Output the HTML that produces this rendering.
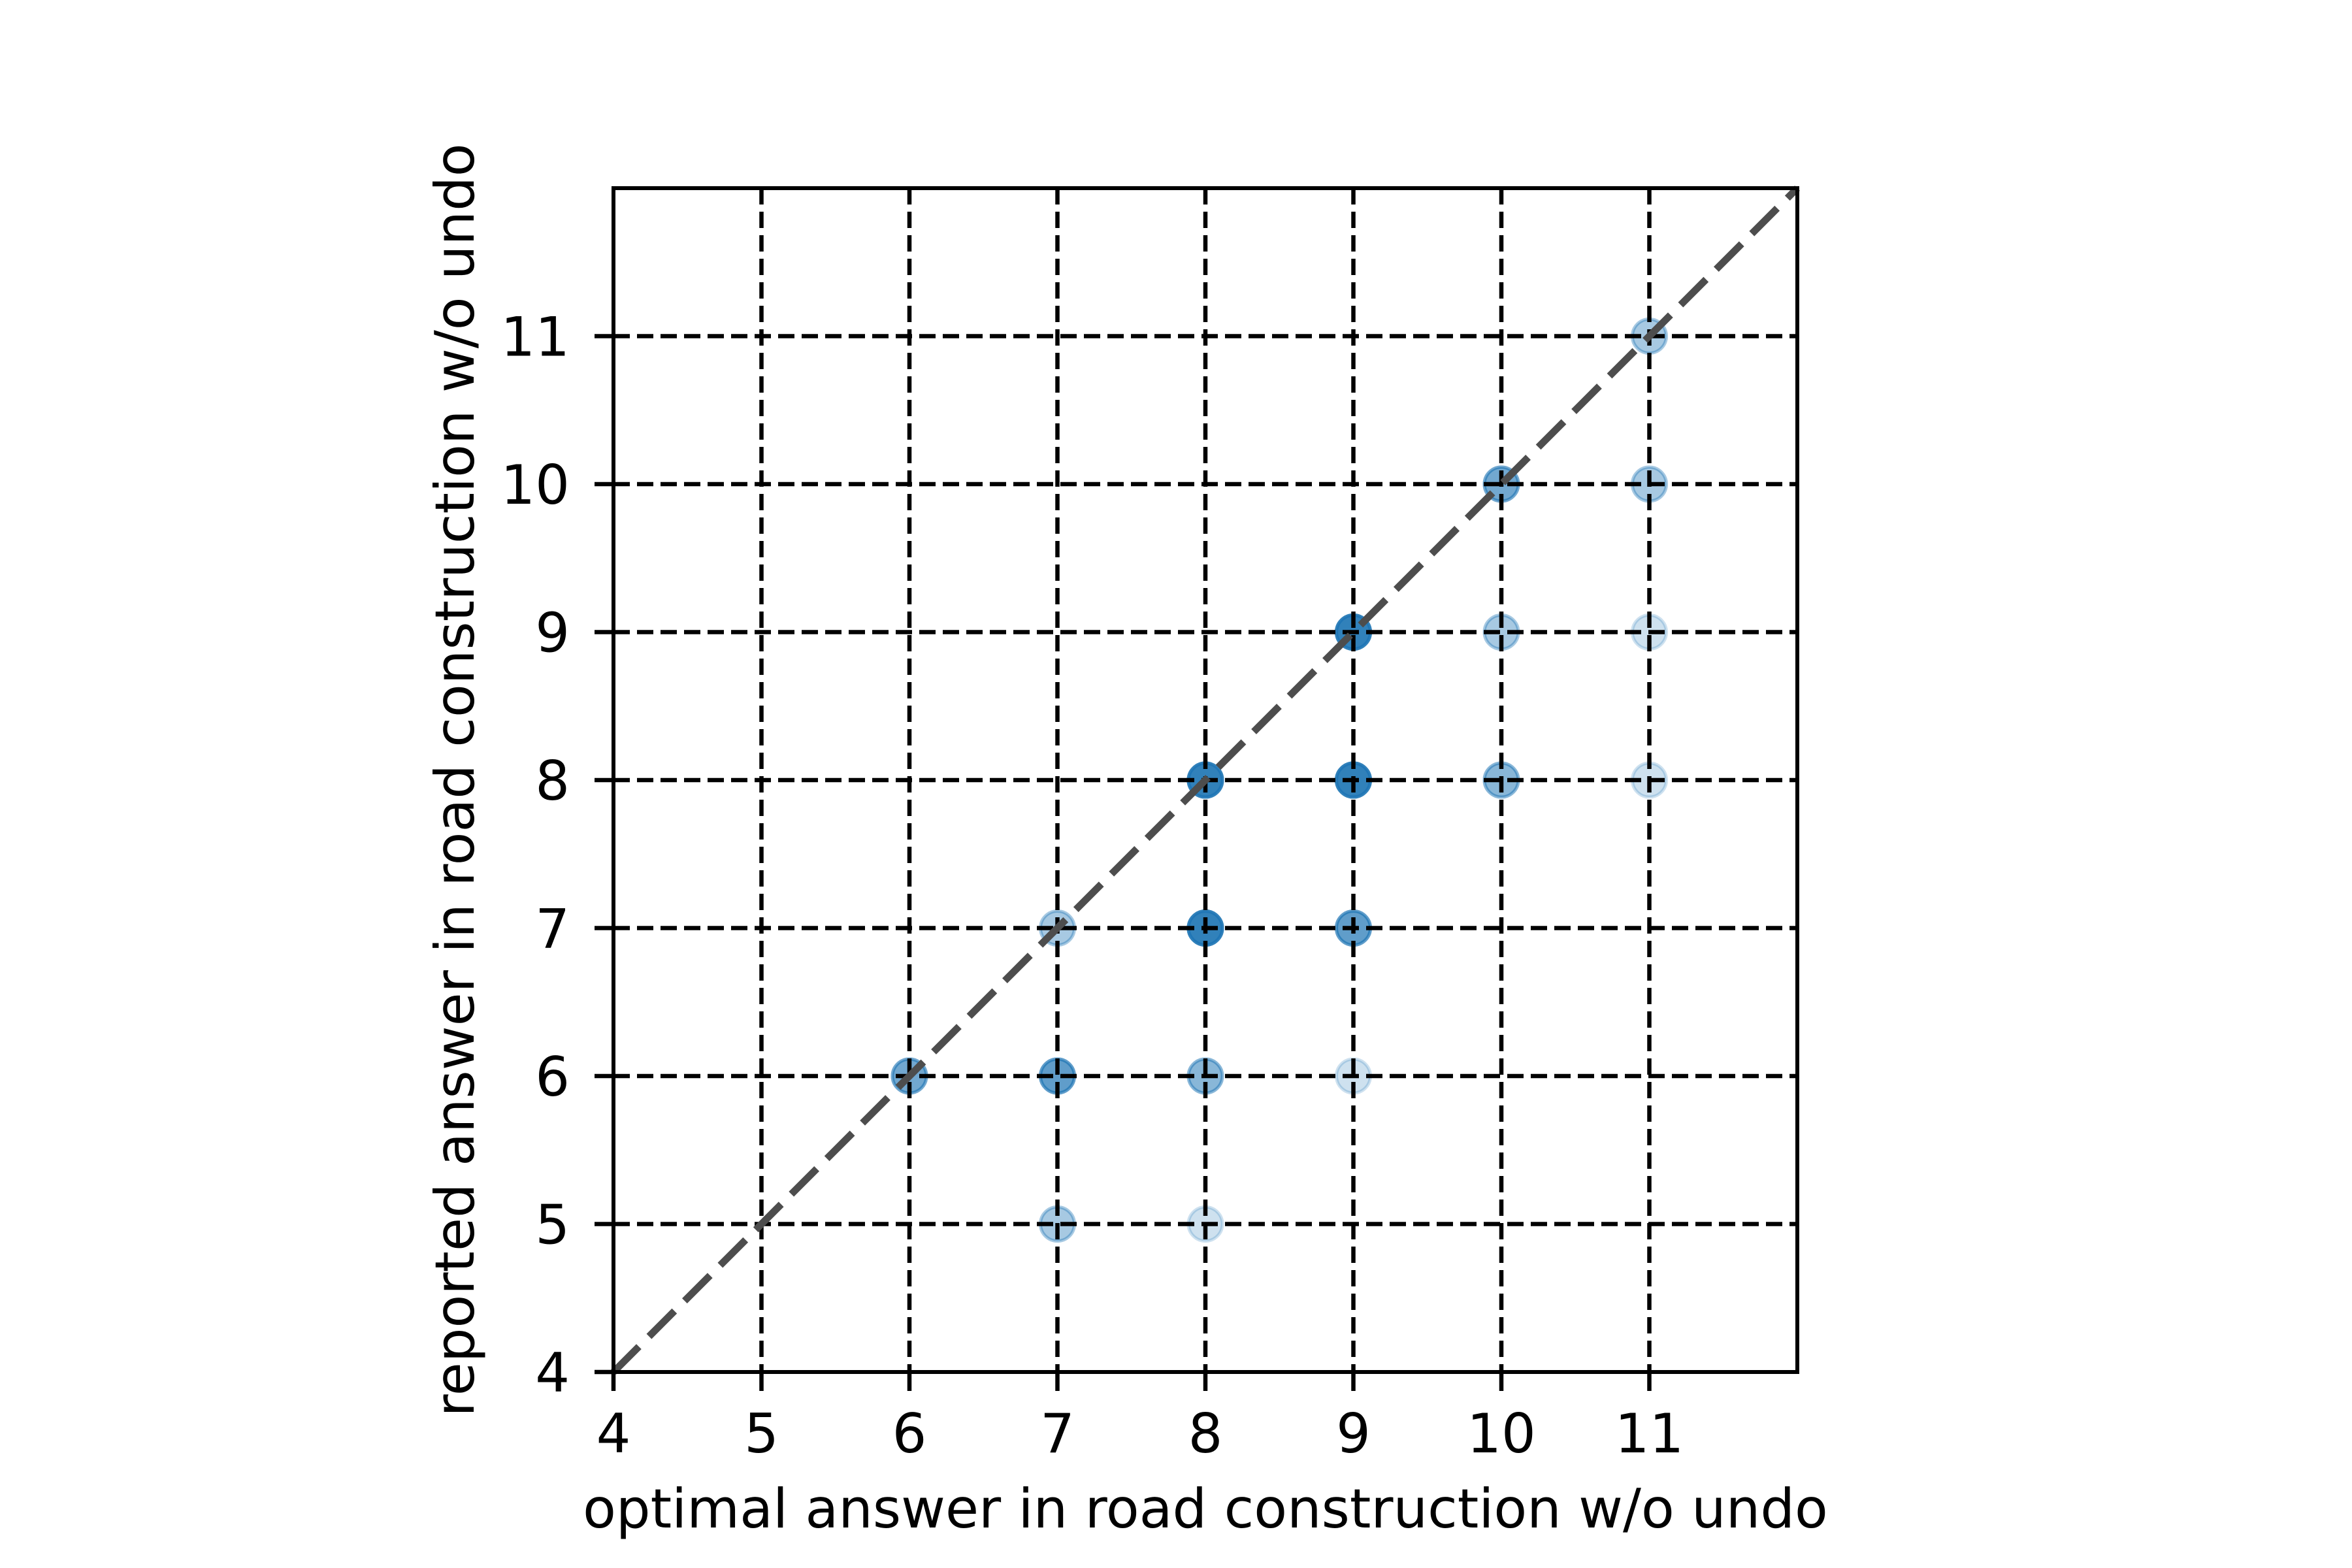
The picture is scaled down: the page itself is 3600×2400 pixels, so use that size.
<!DOCTYPE html>
<html><head><meta charset="utf-8"><style>
html,body{margin:0;padding:0;background:#fff;}
svg{display:block;}
text{font-family:"DejaVu Sans","Liberation Sans",sans-serif;font-size:83px;fill:#000;}
</style></head><body>
<svg id="chart" width="3600" height="2400" viewBox="0 0 3600 2400" xmlns="http://www.w3.org/2000/svg">
<rect width="3600" height="2400" fill="#fff"/>
<g id="marks"></g>
<g id="grid"></g>
<line id="diag" stroke="#4d4d4d" stroke-width="11" stroke-dasharray="55 22"/>
<rect x="939" y="288" width="1812" height="1812" fill="none" stroke="#000" stroke-width="6"/>
<g id="ticks"></g>
<text x="1845" y="2338" text-anchor="middle">optimal answer in road construction w/o undo</text>
<text transform="translate(725,1194) rotate(-90)" text-anchor="middle">reported answer in road construction w/o undo</text>
</svg>
<script>
const optimalX = [6,7,7,7,8,8,8,8,9,9,9,9,10,10,10,11,11,11,11];
const reportedY = [6,7,6,5,8,7,6,5,9,8,7,6,10,9,8,11,10,9,8];
const counts = [4,2,5,2,10,10,3,1,10,10,5,1,4,2,3,2,2,1,1];
const tickValues = [4,5,6,7,8,9,10,11];
const tickLabels = ["4","5","6","7","8","9","10","11"];
const domain = [4,12];

const NS = "http://www.w3.org/2000/svg";
const L = 939, T = 288, W = 1812, H = 1812;
function xs(v){ return L + (v - domain[0]) / (domain[1] - domain[0]) * W; }
function ys(v){ return T + H - (v - domain[0]) / (domain[1] - domain[0]) * H; }
function mk(tag, attrs, parent){
  const e = document.createElementNS(NS, tag);
  for (const k in attrs) e.setAttribute(k, attrs[k]);
  parent.appendChild(e);
  return e;
}
const marks = document.getElementById('marks');
for (let i = 0; i < optimalX.length; i++) {
  const g = mk('g', {}, marks);
  
  
  for (let k = 0; k < counts[i]; k++) {
    mk('circle', {cx: xs(optimalX[i]), cy: ys(reportedY[i]), r: 26, fill: '#1f77b4', 'fill-opacity': 0.22, stroke: '#1f77b4', 'stroke-opacity': 0.22, 'stroke-width': 5}, g);
  }
}
const grid = document.getElementById('grid');
const ticks = document.getElementById('ticks');
tickValues.forEach((v, i) => {
  if (v > domain[0]) {
    const gv = mk('line', {x1: xs(v), x2: xs(v), y1: T, y2: T + H, stroke: '#000', 'stroke-width': 6.5, 'stroke-dasharray': '25 11'}, grid);
    
    
    const gh = mk('line', {x1: L, x2: L + W, y1: ys(v), y2: ys(v), stroke: '#000', 'stroke-width': 6.5, 'stroke-dasharray': '25 11'}, grid);
    
    
  }
  const tx = mk('line', {x1: xs(v), x2: xs(v), y1: T + H, y2: T + H + 29, stroke: '#000', 'stroke-width': 6.5}, ticks);
  
  
  const ty = mk('line', {x1: L - 29, x2: L, y1: ys(v), y2: ys(v), stroke: '#000', 'stroke-width': 6.5}, ticks);
  
  
  const lx = mk('text', {x: xs(v), y: 2223, 'text-anchor': 'middle'}, ticks);
  lx.textContent = tickLabels[i];
  
  
  const ly = mk('text', {x: 872, y: ys(v) + 30, 'text-anchor': 'end'}, ticks);
  ly.textContent = tickLabels[i];
  
  
});
const d = document.getElementById('diag');
d.setAttribute('x1', xs(domain[0])); d.setAttribute('y1', ys(domain[0]));
d.setAttribute('x2', xs(domain[1])); d.setAttribute('y2', ys(domain[1]));
</script>
</body></html>
